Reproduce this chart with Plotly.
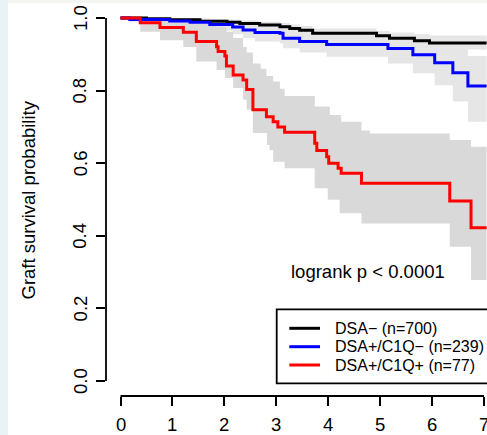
import plotly.graph_objects as go

# ---------------- data ----------------
x_ticks = [0, 1, 2, 3, 4, 5, 6, 7]
y_ticks = [0.0, 0.2, 0.4, 0.6, 0.8, 1.0]
y_tick_labels = ["0.0", "0.2", "0.4", "0.6", "0.8", "1.0"]
t_end = 7.05

group_names = ["DSA\u2212 (n=700)", "DSA+/C1Q\u2212 (n=239)", "DSA+/C1Q+ (n=77)"]

# DSA- (black)
neg_t = [0, 0.5, 0.95, 1.53, 2.05, 2.3, 2.68, 3.07, 3.26, 3.45, 3.7, 4.93, 5.18, 5.66, 5.95]
neg_s = [1.0, 0.998, 0.995, 0.991, 0.988, 0.985, 0.981, 0.976, 0.971, 0.966, 0.958, 0.951, 0.944, 0.937, 0.931]
neg_hi = [1.0, 1.0, 0.999, 0.997, 0.995, 0.993, 0.990, 0.986, 0.982, 0.978, 0.971, 0.965, 0.960, 0.955, 0.952]
neg_lo = [1.0, 0.994, 0.990, 0.985, 0.981, 0.977, 0.972, 0.966, 0.960, 0.954, 0.946, 0.937, 0.929, 0.920, 0.913]

# DSA+/C1Q- (blue)
c1qn_t = [0, 0.18, 0.95, 1.34, 1.72, 2.16, 2.36, 2.59, 3.07, 3.13, 3.45, 3.97, 5.15, 5.63, 6.05, 6.4, 6.69]
c1qn_s = [1.0, 0.996, 0.992, 0.988, 0.982, 0.975, 0.967, 0.960, 0.958, 0.944, 0.935, 0.927, 0.916, 0.899, 0.877, 0.849, 0.813]
c1qn_hi = [1.0, 1.0, 1.0, 0.999, 0.996, 0.992, 0.987, 0.982, 0.980, 0.970, 0.963, 0.957, 0.950, 0.940, 0.930, 0.915, 0.895]
c1qn_lo = [1.0, 0.988, 0.980, 0.973, 0.965, 0.955, 0.945, 0.935, 0.930, 0.917, 0.905, 0.893, 0.875, 0.848, 0.815, 0.770, 0.714]

# DSA+/C1Q+ (red)
c1qp_t = [0, 0.38, 0.76, 1.21, 1.46, 1.85, 1.88, 2.01, 2.04, 2.17, 2.36, 2.43, 2.55, 2.81, 2.94,
          3.03, 3.16, 3.74, 3.78, 3.97, 4.01, 4.19, 4.25, 4.64, 6.34, 6.75]
c1qp_s = [1.0, 0.987, 0.974, 0.961, 0.935, 0.921, 0.908, 0.895, 0.868, 0.843, 0.829, 0.803, 0.747, 0.728, 0.714,
          0.700, 0.685, 0.655, 0.635, 0.618, 0.600, 0.586, 0.572, 0.545, 0.496, 0.422]
c1qp_hi_t = [0, 1.46, 1.85, 2.04, 2.17, 2.36, 2.43, 2.55, 2.7, 2.81, 2.94, 3.07, 3.16, 3.74, 4.03, 4.25, 4.64, 4.8, 6.34, 6.75]
c1qp_hi = [1.0, 0.985, 0.975, 0.962, 0.945, 0.920, 0.905, 0.875, 0.860, 0.840, 0.825, 0.805, 0.785, 0.756, 0.733, 0.714, 0.690, 0.682, 0.664, 0.645]
c1qp_lo_t = [0, 0.38, 0.76, 1.21, 1.46, 1.85, 2.01, 2.17, 2.36, 2.43, 2.55, 2.82, 2.87, 2.94, 3.16, 3.74, 3.99, 4.22, 4.64, 6.34, 6.75]
c1qp_lo = [1.0, 0.962, 0.939, 0.920, 0.880, 0.857, 0.835, 0.807, 0.775, 0.747, 0.683, 0.650, 0.636, 0.604, 0.586, 0.531, 0.499, 0.462, 0.434, 0.370, 0.278]

colors = ["#000000", "#0000ff", "#ff0000"]
band_colors = ["#e6e6e6", "#e6e6e6", "#d9d9d9"]

# ---------------- layout geometry (page pixels) ----------------
W, H = 487, 435
PLOT_L, PLOT_R, PLOT_T, PLOT_B = 106, 487, 4, 396   # plot area in pixels
ML, MR, MT, MB = PLOT_L, W - PLOT_R, PLOT_T, H - PLOT_B
PW, PH = PLOT_R - PLOT_L, PLOT_B - PLOT_T
X0PX, XUNIT = 120.5, 51.93       # pixel of x=0, pixels per unit
Y1PX, Y0PX = 18.0, 381.0         # pixel of y=1 and y=0
yunit = Y0PX - Y1PX
x_range = [(PLOT_L - X0PX) / XUNIT, (PLOT_R - X0PX) / XUNIT]
y_range = [-(PLOT_B - Y0PX) / yunit, 1 + (Y1PX - PLOT_T) / yunit]


def px_x(p):
    return (p - PLOT_L) / PW


def px_y(p):
    return (PLOT_B - p) / PH


def ext(t, v):
    return list(t) + [t_end], list(v) + [v[-1]]


fig = go.Figure()

bands = [
    (neg_t, neg_hi, neg_t, neg_lo),
    (c1qn_t, c1qn_hi, c1qn_t, c1qn_lo),
    (c1qp_hi_t, c1qp_hi, c1qp_lo_t, c1qp_lo),
]
for (ht, hv, lt, lv), bc in zip(bands, band_colors):
    xh, yh = ext(ht, hv)
    xl, yl = ext(lt, lv)
    fig.add_trace(go.Scatter(x=xh, y=yh, mode="lines", line=dict(width=0, shape="hv"),
                             showlegend=False, hoverinfo="skip"))
    fig.add_trace(go.Scatter(x=xl, y=yl, mode="lines", line=dict(width=0, shape="hv"),
                             fill="tonexty", fillcolor=bc, showlegend=False, hoverinfo="skip"))

curves = [(neg_t, neg_s), (c1qn_t, c1qn_s), (c1qp_t, c1qp_s)]
for (t, s), c, name in zip(curves, colors, group_names):
    xx, yy = ext(t, s)
    fig.add_trace(go.Scatter(x=xx, y=yy, mode="lines", name=name,
                             line=dict(color=c, width=3, shape="hv"), showlegend=False))

FONT = "Liberation Sans, Arial, sans-serif"
shapes = []
annotations = []

# faint tint at the left and top edges of the reference image
shapes.append(dict(type="rect", xref="paper", yref="paper", x0=px_x(0), x1=px_x(8), y0=px_y(435), y1=px_y(0),
                   fillcolor="#e7f3f4", line=dict(width=0), layer="below"))
shapes.append(dict(type="rect", xref="paper", yref="paper", x0=px_x(8), x1=px_x(487), y0=px_y(3), y1=px_y(0),
                   fillcolor="#f2f5f0", line=dict(width=0), layer="below"))

# axis lines (R style: from first to last tick)
shapes.append(dict(type="line", xref="paper", yref="y", x0=0, x1=0, y0=y_ticks[0], y1=y_ticks[-1],
                   line=dict(color="black", width=1.8)))
shapes.append(dict(type="line", xref="x", yref="paper", x0=x_ticks[0], x1=x_ticks[-1], y0=0, y1=0,
                   line=dict(color="black", width=1.8)))

# tick labels
for v in x_ticks:
    annotations.append(dict(x=v, y=px_y(424), xref="x", yref="paper", text=str(v), showarrow=False,
                            xanchor="center", yanchor="middle", font=dict(size=18.5, color="black", family=FONT)))
for v, lab in zip(y_ticks, y_tick_labels):
    annotations.append(dict(x=px_x(80), y=v, xref="paper", yref="y", text=lab, showarrow=False, textangle=-90,
                            xanchor="center", yanchor="middle", font=dict(size=18.5, color="black", family=FONT)))

# axis title
annotations.append(dict(x=px_x(27.5), y=px_y(200), xref="paper", yref="paper", text="Graft survival probability",
                        showarrow=False, textangle=-90, xanchor="center", yanchor="middle",
                        font=dict(size=18.5, color="black", family=FONT)))

# logrank text
annotations.append(dict(x=px_x(289), y=px_y(271.5), xref="paper", yref="paper", text="logrank p < 0.0001",
                        showarrow=False, xanchor="left", yanchor="middle",
                        font=dict(size=18.5, color="black", family=FONT)))

# legend box
shapes.append(dict(type="rect", xref="paper", yref="paper", x0=px_x(276.7), x1=px_x(495), y0=px_y(383.3),
                   y1=px_y(309.3), line=dict(color="black", width=1.8), fillcolor="white"))
leg_rows = [328.3, 346.7, 365.0]
for name, c, ry in zip(group_names, colors, leg_rows):
    shapes.append(dict(type="line", xref="paper", yref="paper", x0=px_x(289.3), x1=px_x(320), y0=px_y(ry),
                       y1=px_y(ry), line=dict(color=c, width=3)))
    annotations.append(dict(x=px_x(332.5), y=px_y(ry), xref="paper", yref="paper", text=name, showarrow=False,
                            xanchor="left", yanchor="middle", font=dict(size=16, color="black", family=FONT)))

fig.update_layout(
    width=W, height=H,
    margin=dict(l=ML, r=MR, t=MT, b=MB, pad=0),
    paper_bgcolor="white", plot_bgcolor="white",
    showlegend=False,
    shapes=shapes, annotations=annotations,
    xaxis=dict(range=x_range, tickvals=x_ticks, showticklabels=False, ticks="outside", ticklen=9,
               tickwidth=1.8, tickcolor="black", showgrid=False, zeroline=False, showline=False, fixedrange=True),
    yaxis=dict(range=y_range, tickvals=y_ticks, showticklabels=False, ticks="outside", ticklen=9,
               tickwidth=1.8, tickcolor="black", showgrid=False, zeroline=False, showline=False, fixedrange=True),
)

fig.write_html(
    "out.html",
    config={"displayModeBar": False},
    post_script="document.body.style.margin='0px';document.body.style.overflow='hidden';",
)
